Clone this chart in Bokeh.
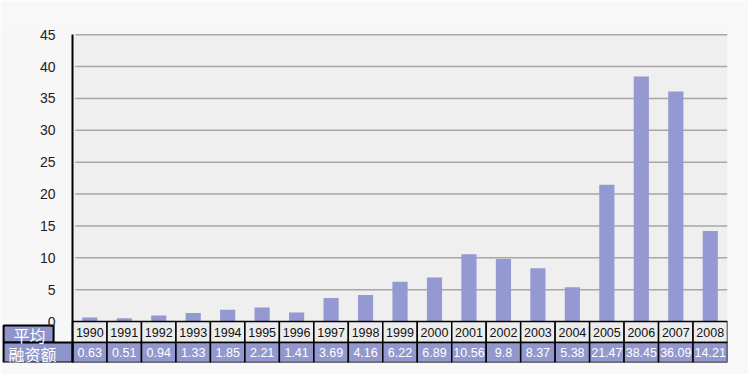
from bokeh.plotting import figure
from bokeh.models import Range1d, FixedTicker
from bokeh.embed import file_html
from bokeh.resources import INLINE
from bokeh.core.properties import value

years = ["1990", "1991", "1992", "1993", "1994", "1995", "1996", "1997", "1998", "1999",
         "2000", "2001", "2002", "2003", "2004", "2005", "2006", "2007", "2008"]
amounts = [0.63, 0.51, 0.94, 1.33, 1.85, 2.21, 1.41, 3.69, 4.16, 6.22,
           6.89, 10.56, 9.8, 8.37, 5.38, 21.47, 38.45, 36.09, 14.21]
amount_labels = ["0.63", "0.51", "0.94", "1.33", "1.85", "2.21", "1.41", "3.69", "4.16", "6.22",
                 "6.89", "10.56", "9.8", "8.37", "5.38", "21.47", "38.45", "36.09", "14.21"]
y_ticks = [0, 5, 10, 15, 20, 25, 30, 35, 40, 45]
row_header_1 = "平均"
row_header_2 = "融资额"

BAR_COLOR = "#9499d1"
CELL_BLUE = "#9298cd"
HDR_BLUE = "#8f95ca"

n = len(years)
xc = [i + 0.5 for i in range(n)]
Y_MIN = -6.43
Y_MAX = y_ticks[-1]
Y_TOP = Y_MAX + 1.6
ROW_SPLIT = -3.3
X_LEFT = -2.09

p = figure(width=748, height=374,
           x_range=Range1d(X_LEFT, n),
           y_range=Range1d(Y_MIN, Y_TOP),
           output_backend="svg", toolbar_location=None,
           min_border_left=0, min_border_right=21,
           min_border_top=24, min_border_bottom=12)

p.background_fill_color = "#f7f7f7"
p.border_fill_color = "#f8f8f8"
p.outline_line_color = None

p.xaxis.visible = False
p.xgrid.visible = False
p.ygrid.visible = False

p.yaxis.fixed_location = 0
p.yaxis.bounds = (Y_MIN, Y_MAX)
p.yaxis.ticker = FixedTicker(ticks=y_ticks)
p.yaxis.major_tick_line_color = None
p.yaxis.minor_tick_line_color = None
p.yaxis.axis_line_color = "black"
p.yaxis.axis_line_width = 2
p.yaxis.major_label_standoff = 11
p.yaxis.major_label_text_font = "Liberation Sans"
p.yaxis.major_label_text_font_size = "14px"
p.yaxis.major_label_text_color = "#222222"

# plot area background and grid lines
p.quad(left=0, right=n, bottom=0, top=Y_MAX, fill_color="#efefef", line_color=None)
p.segment(x0=0.08, x1=n, y0=y_ticks[1:], y1=y_ticks[1:], line_color="#aaa6a6", line_width=1.5)

# bars
p.vbar(x=xc, top=amounts, width=0.44, fill_color=BAR_COLOR, line_color=None)

# table rows
row1_mid = ROW_SPLIT / 2
row2_mid = (ROW_SPLIT + Y_MIN) / 2
p.rect(x=xc, y=row1_mid, width=1, height=-ROW_SPLIT,
       fill_color="#ececec", line_color="black", line_width=1.5)
p.rect(x=xc, y=row2_mid, width=1, height=ROW_SPLIT - Y_MIN,
       fill_color=CELL_BLUE, line_color="black", line_width=1.5)

p.text(x=xc, y=row1_mid, text=years, text_align="center", text_baseline="middle",
       text_font=value("Liberation Sans"), text_font_size="12.5px", text_color="#111111")
p.text(x=xc, y=row2_mid, text=amount_labels, text_align="center", text_baseline="middle",
       text_font=value("Liberation Sans"), text_font_size="12.5px", text_color="white")

# row header cells
p.quad(left=[-2.0, -2.0], right=[-0.55, 0], top=[-0.63, ROW_SPLIT], bottom=[ROW_SPLIT, Y_MIN],
       fill_color=HDR_BLUE, line_color="black", line_width=2)
p.text(x=[-1.25, -1.16], y=[-2.04, -5.1], text=[row_header_1, row_header_2],
       text_align="center", text_baseline="middle",
       text_font=value("Noto Sans CJK SC"), text_font_size="16px", text_color="white")

open("out.html", "w").write(file_html(p, INLINE))
